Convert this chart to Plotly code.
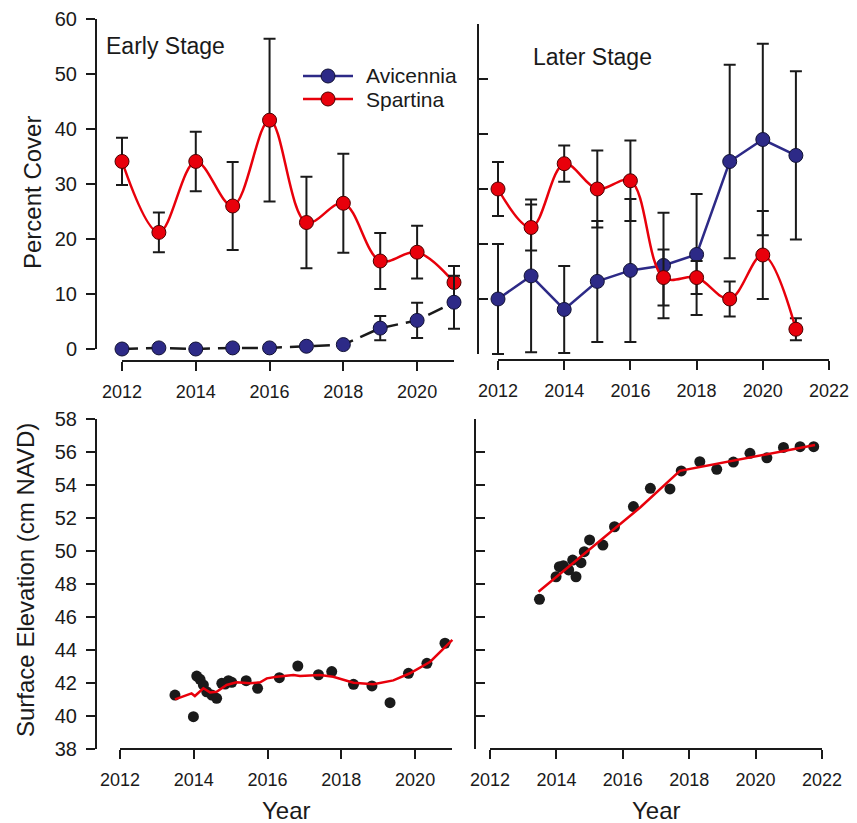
import plotly.graph_objects as go

W, H = 857, 823

# ---------------- data ----------------
years = [2012, 2013, 2014, 2015, 2016, 2017, 2018, 2019, 2020, 2021]

# Early stage (percent cover)
early_spartina = [34.1, 21.2, 34.1, 26.0, 41.6, 23.0, 26.5, 16.0, 17.6, 12.1]
early_spartina_se = [4.3, 3.6, 5.4, 8.0, 14.8, 8.3, 9.0, 5.1, 4.8, 3.0]
early_avicennia = [0.0, 0.2, 0.0, 0.2, 0.2, 0.5, 0.8, 3.8, 5.2, 8.5]
early_avicennia_se = [0, 0, 0, 0, 0, 0, 0, 2.2, 3.2, 4.8]

# Later stage (percent cover)
later_spartina = [30.0, 23.0, 34.6, 30.0, 31.5, 13.9, 13.9, 10.0, 18.0, 4.5]
later_spartina_se = [4.9, 4.2, 3.3, 7.0, 7.3, 5.1, 3.0, 3.2, 8.0, 2.0]
later_avicennia = [10.0, 14.2, 8.1, 13.2, 15.2, 16.1, 18.1, 35.0, 39.0, 36.1]
later_avicennia_se = [10.0, 13.9, 7.9, 11.0, 13.0, 9.6, 11.0, 17.6, 17.4, 15.3]

# Early stage surface elevation
early_elev_t = [2013.49, 2013.99, 2014.08, 2014.17, 2014.26, 2014.35, 2014.49, 2014.62,
                2014.76, 2014.85, 2014.94, 2015.03, 2015.42, 2015.73, 2016.32, 2016.82,
                2017.38, 2017.74, 2018.33, 2018.83, 2019.32, 2019.82, 2020.32, 2020.81]
early_elev = [41.27, 39.96, 42.42, 42.22, 41.88, 41.47, 41.27, 41.07,
              41.98, 41.94, 42.14, 42.04, 42.14, 41.68, 42.32, 43.03,
              42.50, 42.69, 41.92, 41.82, 40.81, 42.59, 43.19, 44.41]
early_fit_t = [2013.49, 2013.94, 2014.03, 2014.26, 2014.44, 2014.62, 2014.89, 2015.16,
               2015.53, 2015.80, 2015.98, 2016.25, 2016.70, 2016.88, 2017.42, 2017.78,
               2018.33, 2018.87, 2019.41, 2019.86, 2020.41, 2021.01]
early_fit = [41.01, 41.37, 41.21, 41.68, 41.43, 41.47, 41.88, 42.04,
             41.98, 42.04, 42.28, 42.38, 42.48, 42.42, 42.48, 42.38,
             42.02, 41.92, 42.16, 42.59, 43.29, 44.61]

# Later stage surface elevation
later_elev_t = [2013.49, 2013.99, 2014.09, 2014.21, 2014.37, 2014.49, 2014.59, 2014.74,
                2014.84, 2015.00, 2015.40, 2015.75, 2016.32, 2016.83, 2017.42, 2017.76,
                2018.32, 2018.83, 2019.33, 2019.83, 2020.34, 2020.84, 2021.34, 2021.75]
later_elev = [47.07, 48.44, 49.05, 49.11, 48.85, 49.45, 48.44, 49.29,
              49.96, 50.67, 50.36, 51.47, 52.69, 53.80, 53.76, 54.85,
              55.41, 54.95, 55.39, 55.92, 55.65, 56.28, 56.32, 56.32]
later_fit_t = [2013.46, 2016.53, 2017.72, 2021.79]
later_fit = [47.53, 52.65, 54.86, 56.42]

x_ticks_short = [2012, 2014, 2016, 2018, 2020]
x_ticks_long = [2012, 2014, 2016, 2018, 2020, 2022]
cover_ticks = [0, 10, 20, 30, 40, 50, 60]
elev_ticks = [38, 40, 42, 44, 46, 48, 50, 52, 54, 56, 58]
legend_names = ["Avicennia", "Spartina"]

# ---------------- style ----------------
NAVY = "#2D2A87"
RED = "#E8000B"
INK = "#1a1a1a"
FONT = "Liberation Sans, Arial, sans-serif"
PAD = 16  # px of invisible room around each panel so edge error bars are not clipped


def px(x):
    return x / W


def py(y):
    return 1 - y / H


# panel geometry (pixels): x-axis span, x range, x-axis line y; y-axis span, y range, y-axis line x
panels = [
    dict(xl=122, xr=454, xrng=[2012, 2021], xline=361, xt=x_ticks_short,
         yt_=19, yb=349, yrng=[0, 60], yline=96, ytv=cover_ticks, ylab=True),
    dict(xl=498, xr=829, xrng=[2012, 2022], xline=360, xt=x_ticks_long,
         yt_=24, yb=354, yrng=[0, 60], yline=478, ytv=cover_ticks, ylab=False),
    dict(xl=120, xr=452, xrng=[2012, 2021], xline=749, xt=x_ticks_short,
         yt_=419, yb=749, yrng=[38, 58], yline=96, ytv=elev_ticks, ylab=True),
    dict(xl=490, xr=822, xrng=[2012, 2022], xline=749, xt=x_ticks_long,
         yt_=419, yb=749, yrng=[38, 58], yline=475, ytv=elev_ticks, ylab=False),
]

err_style = dict(type="data", symmetric=True, color=INK, thickness=2, width=6, visible=True)

fig = go.Figure()

# Top-left: early stage cover
fig.add_trace(go.Scatter(
    x=years, y=early_spartina, mode="lines+markers", name="Spartina",
    line=dict(color=RED, width=2.5, shape="spline", smoothing=1),
    marker=dict(size=14, color=RED, line=dict(color="#4a0000", width=1)),
    error_y=dict(array=early_spartina_se, **err_style),
    xaxis="x", yaxis="y", showlegend=False, cliponaxis=False))
fig.add_trace(go.Scatter(
    x=years, y=early_avicennia, mode="lines+markers", name="Avicennia",
    line=dict(color=INK, width=2.5, dash="16px,8px"),
    marker=dict(size=14, color=NAVY, line=dict(color="#111133", width=1)),
    error_y=dict(array=early_avicennia_se, **err_style),
    xaxis="x", yaxis="y", showlegend=False, cliponaxis=False))

# Top-right: later stage cover
fig.add_trace(go.Scatter(
    x=years, y=later_avicennia, mode="lines+markers", name="Avicennia",
    line=dict(color=NAVY, width=2.5),
    marker=dict(size=14, color=NAVY, line=dict(color="#111133", width=1)),
    error_y=dict(array=later_avicennia_se, **err_style),
    xaxis="x2", yaxis="y2", showlegend=False, cliponaxis=False))
fig.add_trace(go.Scatter(
    x=years, y=later_spartina, mode="lines+markers", name="Spartina",
    line=dict(color=RED, width=2.5, shape="spline", smoothing=1),
    marker=dict(size=14, color=RED, line=dict(color="#4a0000", width=1)),
    error_y=dict(array=later_spartina_se, **err_style),
    xaxis="x2", yaxis="y2", showlegend=False, cliponaxis=False))

# Bottom-left: early elevation
fig.add_trace(go.Scatter(
    x=early_elev_t, y=early_elev, mode="markers",
    marker=dict(size=11, color=INK),
    xaxis="x3", yaxis="y3", showlegend=False, cliponaxis=False))
fig.add_trace(go.Scatter(
    x=early_fit_t, y=early_fit, mode="lines",
    line=dict(color=RED, width=2.5),
    xaxis="x3", yaxis="y3", showlegend=False, cliponaxis=False))

# Bottom-right: later elevation
fig.add_trace(go.Scatter(
    x=later_elev_t, y=later_elev, mode="markers",
    marker=dict(size=11, color=INK),
    xaxis="x4", yaxis="y4", showlegend=False, cliponaxis=False))
fig.add_trace(go.Scatter(
    x=later_fit_t, y=later_fit, mode="lines",
    line=dict(color=RED, width=2.5),
    xaxis="x4", yaxis="y4", showlegend=False, cliponaxis=False))

layout = dict(width=W, height=H, margin=dict(l=0, r=0, t=0, b=0, autoexpand=False),
              template="none", paper_bgcolor="white", plot_bgcolor="rgba(0,0,0,0)",
              font=dict(family=FONT, color=INK), showlegend=False)

for i, p in enumerate(panels, start=1):
    # data axes: invisible, padded so marks at the panel edge are not clipped
    sx = (p["xrng"][1] - p["xrng"][0]) / (p["xr"] - p["xl"])
    sy = (p["yrng"][1] - p["yrng"][0]) / (p["yb"] - p["yt_"])
    layout[f"xaxis{i}" if i > 1 else "xaxis"] = dict(
        domain=[px(p["xl"] - PAD), px(p["xr"] + PAD)],
        range=[p["xrng"][0] - PAD * sx, p["xrng"][1] + PAD * sx],
        visible=False, anchor=f"y{i}" if i > 1 else "y", automargin=False,
        showgrid=False, zeroline=False)
    layout[f"yaxis{i}" if i > 1 else "yaxis"] = dict(
        domain=[py(p["yb"] + PAD), py(p["yt_"] - PAD)],
        range=[p["yrng"][0] - PAD * sy, p["yrng"][1] + PAD * sy],
        visible=False, anchor=f"x{i}" if i > 1 else "x", automargin=False,
        showgrid=False, zeroline=False)
    # display axes: the visible, detached axis lines
    j = i + 4
    layout[f"xaxis{j}"] = dict(
        domain=[px(p["xl"]), px(p["xr"])], range=p["xrng"], anchor="free",
        position=py(p["xline"]), showline=True, linecolor=INK, linewidth=2,
        ticks="outside", ticklen=9, tickwidth=2, tickcolor=INK,
        tickvals=p["xt"], ticktext=[str(v) for v in p["xt"]],
        tickfont=dict(size=18, family=FONT, color=INK), ticklabelstandoff=5,
        showgrid=False, zeroline=False, automargin=False)
    layout[f"yaxis{j}"] = dict(
        domain=[py(p["yb"]), py(p["yt_"])], range=p["yrng"], anchor="free",
        position=px(p["yline"]), showline=True, linecolor=INK, linewidth=2,
        ticks="outside" if p["ylab"] else "inside", ticklen=9, tickwidth=2,
        tickcolor=INK, tickvals=p["ytv"], showticklabels=p["ylab"],
        tickfont=dict(size=20, family=FONT, color=INK), ticklabelstandoff=5,
        showgrid=False, zeroline=False, automargin=False)
    fig.add_trace(go.Scatter(x=[None], y=[None], mode="markers", showlegend=False,
                             hoverinfo="skip", xaxis=f"x{j}", yaxis=f"y{j}"))

fig.update_layout(**layout)

# ---- legend (drawn in the top-left panel) ----
legend_colors = [NAVY, RED]
legend_edges = ["#111133", "#4a0000"]
legend_rows = [76, 99]
for name, col, edge, yrow in zip(legend_names, legend_colors, legend_edges, legend_rows):
    fig.add_shape(type="line", xref="paper", yref="paper",
                  x0=px(303), x1=px(353), y0=py(yrow), y1=py(yrow),
                  line=dict(color=col, width=2.5))
    fig.add_shape(type="circle", xref="paper", yref="paper",
                  x0=px(321), x1=px(335), y0=py(yrow + 7), y1=py(yrow - 7),
                  fillcolor=col, line=dict(color=edge, width=1))
    fig.add_annotation(text=name, x=px(364), y=py(yrow), xanchor="left", yanchor="middle",
                       font=dict(size=21, family=FONT, color=INK), showarrow=False,
                       xref="paper", yref="paper")

fig.add_annotation(text="Percent Cover", x=px(32), y=py(193), textangle=-90,
                   xanchor="center", yanchor="middle", font=dict(size=24, family=FONT, color=INK),
                   showarrow=False, xref="paper", yref="paper")
fig.add_annotation(text="Surface Elevation (cm NAVD)", x=px(25), y=py(580), textangle=-90,
                   xanchor="center", yanchor="middle", font=dict(size=24, family=FONT, color=INK),
                   showarrow=False, xref="paper", yref="paper")
fig.add_annotation(text="Year", x=px(286), y=py(810), xanchor="center", yanchor="middle",
                   font=dict(size=24, family=FONT, color=INK), showarrow=False,
                   xref="paper", yref="paper")
fig.add_annotation(text="Year", x=px(656), y=py(810), xanchor="center", yanchor="middle",
                   font=dict(size=24, family=FONT, color=INK), showarrow=False,
                   xref="paper", yref="paper")
fig.add_annotation(text="Early Stage", x=px(104), y=py(46), xanchor="left", yanchor="middle",
                   font=dict(size=23, family=FONT, color=INK), showarrow=False,
                   xref="paper", yref="paper")
fig.add_annotation(text="Later Stage", x=px(531), y=py(57), xanchor="left", yanchor="middle",
                   font=dict(size=23, family=FONT, color=INK), showarrow=False,
                   xref="paper", yref="paper")

fig.write_html("out.html")
